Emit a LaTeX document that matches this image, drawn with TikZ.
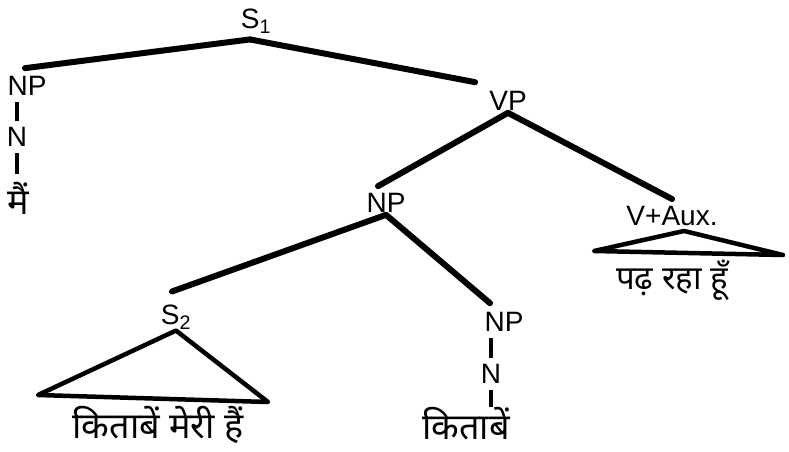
\documentclass[tikz,border=0pt]{standalone}
\usepackage{fontspec}
\setmainfont{Liberation Sans}
\newfontfamily\devfont[Script=Devanagari]{Noto Sans}
\begin{document}
\begin{tikzpicture}[x=1pt, y=-1pt,
    cat/.style={font=\fontsize{28}{32}\selectfont, inner sep=2pt},
    word/.style={font=\devfont\fontsize{#1}{#1}\selectfont, inner sep=1pt},
    word/.default=36,
    branch/.style={line width=6pt, line cap=round},
    stem/.style={line width=3.5pt, shorten <=4pt, shorten >=4pt},
    roof/.style={line width=4.5pt, line join=round, line cap=round}]
  \useasboundingbox (0,0) rectangle (789,452);

  % Top level: S1 -> NP VP
  \node[cat] (s1) at (256,21) {S\textsubscript{1}};
  \node[cat] (npsubj) at (27,86) {NP};
  \node[cat] (vp) at (508,101) {VP};
  \draw[branch] ([xshift=-6pt,yshift=-4pt]s1.south) -- ([xshift=-2pt,yshift=6pt]npsubj.north);
  \draw[branch] ([xshift=-6pt,yshift=-4pt]s1.south) -- ([xshift=-12pt,yshift=7pt]vp.north west);

  % Subject chain
  \node[cat] (nsubj) at (17,137) {N};
  \node[word] (wsubj) at (18,198) {मैं};
  \draw[stem] (npsubj.south -| nsubj) -- (nsubj.north);
  \draw[stem] (nsubj) -- ([yshift=3pt]wsubj.north -| nsubj);

  % VP -> NP V+Aux
  \node[cat] (npobj) at (386,203) {NP};
  \node[cat] (vaux) at (672,216) {V+Aux.};
  \draw[branch] (vp.south) -- ([xshift=-8pt,yshift=5pt]npobj.north);
  \draw[branch] (vp.south) -- ([yshift=5pt]vaux.north);

  % Verb roof
  \coordinate (vaux-l) at (594,251);
  \coordinate (vaux-r) at (783,255);
  \draw[roof] ([xshift=12pt,yshift=-3pt]vaux.south) -- (vaux-l) -- (vaux-r) -- cycle;
  \node[word=33] (wvaux) at (672,280) {पढ़ रहा हूँ};

  % NP -> S2 NP
  \node[cat] (s2) at (176,317) {S\textsubscript{2}};
  \node[cat] (nphead) at (504,322) {NP};
  \draw[branch] (npobj.south) -- ([xshift=-4pt,yshift=11pt]s2.north);
  \draw[branch] (npobj.south) -- ([xshift=-14pt,yshift=7pt]nphead.north);

  % Embedded clause roof
  \coordinate (s2-l) at (38,395);
  \coordinate (s2-r) at (268,402);
  \draw[roof] ([yshift=1pt]s2.south) -- (s2-l) -- (s2-r) -- cycle;
  \node[word] (ws2) at (158,425) {किताबें मेरी हैं};

  % Head noun chain
  \node[cat] (nhead) at (491,374) {N};
  \node[word] (whead) at (466,424) {किताबें};
  \draw[stem] (nphead.south -| nhead) -- (nhead.north);
  \draw[stem] (nhead) -- ([yshift=-5pt]whead.north -| nhead);
\end{tikzpicture}
\end{document}
